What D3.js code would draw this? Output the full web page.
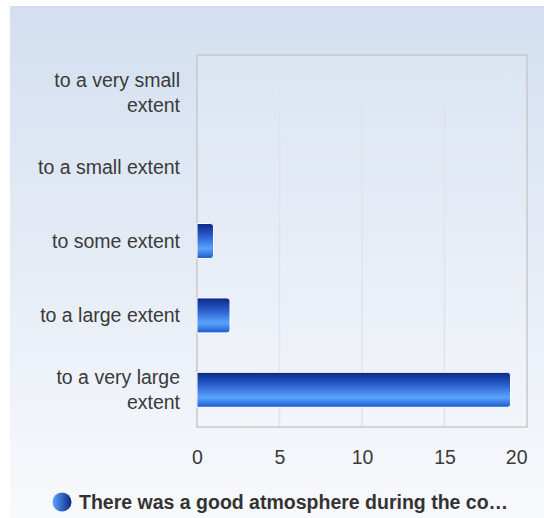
<!DOCTYPE html>
<html><head><meta charset="utf-8">
<script src="https://cdn.jsdelivr.net/npm/d3@7"></script>
<style>html,body{margin:0;padding:0;background:#fff;}svg{display:block;font-family:"Liberation Sans",Arial,sans-serif;}</style>
</head><body>
<svg id="c" width="544" height="518"></svg>
<script>
const categories = [["to a very small","extent"],["to a small extent"],["to some extent"],["to a large extent"],["to a very large","extent"]];
const values = [0, 0, 1, 2, 19];
const xTicks = [0, 5, 10, 15, 20];
const seriesName = "There was a good atmosphere during the co\u2026";

const FS = 19.5;
const svg = d3.select("#c");
const W = 544, H = 518;
const defs = svg.append("defs");
const bg = defs.append("linearGradient").attr("id","bg").attr("x1",0).attr("y1",0).attr("x2",0).attr("y2",1);
bg.append("stop").attr("offset","0%").attr("stop-color","#d3dff0");
bg.append("stop").attr("offset","100%").attr("stop-color","#f8f9fc");
const bar = defs.append("linearGradient").attr("id","bar").attr("x1",0).attr("y1",0).attr("x2",0).attr("y2",1);
bar.append("stop").attr("offset","0%").attr("stop-color","#0a2888");
bar.append("stop").attr("offset","35%").attr("stop-color","#2a5ccc");
bar.append("stop").attr("offset","72%").attr("stop-color","#5aa4fa");
bar.append("stop").attr("offset","100%").attr("stop-color","#1c58d0");
const lg = defs.append("linearGradient").attr("id","lg").attr("x1",0).attr("y1",0).attr("x2",1).attr("y2",0);
lg.append("stop").attr("offset","0%").attr("stop-color","#5aa4fa");
lg.append("stop").attr("offset","100%").attr("stop-color","#0a2888");

svg.append("rect").attr("x",10).attr("y",6).attr("width",W-10).attr("height",H-6).attr("fill","url(#bg)");

const m = {l:197, r:527, t:55, b:427};
const x = d3.scaleLinear().domain([0,20]).range([m.l, m.r]);
const y = d3.scaleBand().domain(d3.range(categories.length)).range([m.t, m.b]).paddingInner(0.53).paddingOuter(0.265);

svg.append("rect").attr("x",m.l).attr("y",m.t).attr("width",m.r-m.l).attr("height",m.b-m.t).attr("fill","#ffffff").attr("fill-opacity",0.12);

svg.append("g").selectAll("line").data(xTicks.slice(1,-1)).join("line")
  .attr("x1",d=>x(d)).attr("x2",d=>x(d)).attr("y1",m.t).attr("y2",m.b)
  .attr("stroke","#dfe3ea").attr("stroke-width",1.5);

svg.append("rect").attr("x",m.l).attr("y",m.t).attr("width",m.r-m.l).attr("height",m.b-m.t)
  .attr("fill","none").attr("stroke","#c8c8c8").attr("stroke-width",1.5);

svg.append("g").selectAll("path").data(values.map((v,i)=>({v,i})).filter(d=>d.v>0)).join("path")
  .attr("d", d => {
    const x0 = x(0), x1 = x(d.v), y0 = y(d.i), h = y.bandwidth(), r = 3;
    return `M${x0},${y0}H${x1-r}Q${x1},${y0} ${x1},${y0+r}V${y0+h-r}Q${x1},${y0+h} ${x1-r},${y0+h}H${x0}Z`;
  })
  .attr("fill","url(#bar)").attr("stroke","#ffffff").attr("stroke-width",1);

const labG = svg.append("g");
categories.forEach((lines,i)=>{
  const cy = y(i) + y.bandwidth()/2;
  const lh = 25;
  const t = labG.append("text").attr("text-anchor","end").attr("font-size",FS).attr("fill","#3a3a3a");
  lines.forEach((ln,j)=>{
    t.append("tspan").attr("x",180).attr("y", cy + (j-(lines.length-1)/2)*lh + 7).text(ln);
  });
});

const xAxis = d3.axisBottom(x).tickValues(xTicks).tickSize(0).tickPadding(0);
const ax = svg.append("g").attr("transform",`translate(0,${m.b})`).call(xAxis);
ax.select(".domain").remove();
ax.selectAll("text").attr("font-size",FS).attr("fill","#3a3a3a").attr("dy",0).attr("y",37).style("font-family","'Liberation Sans',Arial,sans-serif");
ax.selectAll(".tick").filter(d=>d===xTicks[xTicks.length-1]).select("text").attr("text-anchor","end").attr("x",0);

svg.append("circle").attr("cx",62).attr("cy",502).attr("r",9.5).attr("fill","url(#lg)");
svg.append("text").attr("x",79).attr("y",509).attr("font-size",FS).attr("font-weight","bold").attr("fill","#333333").text(seriesName);
</script>
</body></html>
